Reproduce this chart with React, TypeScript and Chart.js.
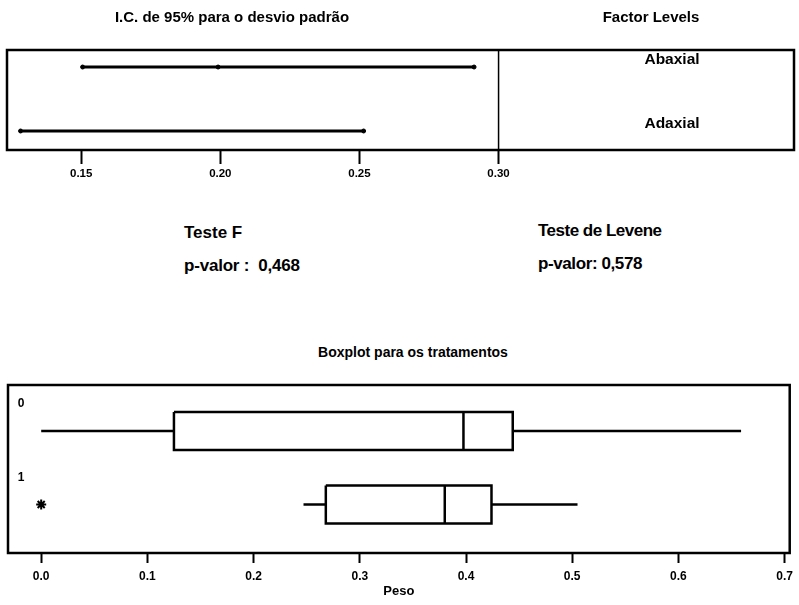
import { useEffect, useRef } from "react";
import { Chart, registerables } from "chart.js";

Chart.register(...registerables);

const FONT = "'Liberation Sans', Arial, Helvetica, sans-serif";

// 95% confidence intervals for the standard deviation, one row per factor level
const levels = ["Abaxial", "Adaxial"];
const levelPos = [1, 2];
const sigmaLower = [0.1505, 0.1282];
const sigmaEstimate: (number | null)[] = [0.1992, null];
const sigmaUpper = [0.2912, 0.2515];
const ciTicks = [0.15, 0.2, 0.25, 0.3];
const ciDivider = 0.3;

// Boxplot of "Peso" for the two treatments
const groups = ["0", "1"];
const groupPos = [0, 1];
const whiskerLow = [0.0, 0.247];
const q1 = [0.125, 0.268];
const median = [0.3976, 0.38];
const q3 = [0.444, 0.424];
const whiskerHigh = [0.659, 0.505];
const outliers: number[][] = [[], [0.0]];
const pesoTicks = [0, 0.1, 0.2, 0.3, 0.4, 0.5, 0.6, 0.7];

const frame = (lineWidth: number) => ({
  id: "frame",
  afterDatasetsDraw(chart: any) {
    const { ctx, chartArea: a } = chart;
    ctx.save();
    ctx.strokeStyle = "#000";
    ctx.lineWidth = lineWidth;
    ctx.strokeRect(a.left, a.top, a.right - a.left, a.bottom - a.top);
    ctx.restore();
  },
});

function CiChart() {
  const ref = useRef<HTMLCanvasElement>(null);
  useEffect(() => {
    const yMin = 0.734;
    const yMax = 2.297;
    const datasets: any[] = [];
    levels.forEach((_, i) => {
      datasets.push({
        data: [
          { x: sigmaLower[i], y: levelPos[i] },
          { x: sigmaUpper[i], y: levelPos[i] },
        ],
        showLine: true,
        borderColor: "#000",
        backgroundColor: "#000",
        borderWidth: 3,
        pointRadius: 2,
        pointBorderWidth: 1,
      });
      if (sigmaEstimate[i] !== null) {
        datasets.push({
          data: [{ x: sigmaEstimate[i], y: levelPos[i] }],
          borderColor: "#000",
          backgroundColor: "#000",
          pointRadius: 2,
          pointBorderWidth: 1,
        });
      }
    });
    datasets.push({
      data: [
        { x: ciDivider, y: yMin },
        { x: ciDivider, y: yMax },
      ],
      showLine: true,
      borderColor: "#000",
      borderWidth: 1.5,
      pointRadius: 0,
    });

    const levelLabels = {
      id: "levelLabels",
      afterDatasetsDraw(chart: any) {
        const { ctx, chartArea: a, scales } = chart;
        ctx.save();
        ctx.fillStyle = "#000";
        ctx.font = `bold 15.5px ${FONT}`;
        ctx.textAlign = "center";
        ctx.textBaseline = "middle";
        levels.forEach((name, i) => {
          ctx.fillText(name, a.right - 122, scales.y.getPixelForValue(levelPos[i]) - 7);
        });
        ctx.restore();
      },
    };

    const chart = new Chart(ref.current!, {
      type: "scatter",
      data: { datasets },
      options: {
        animation: false,
        responsive: false,
        events: [],
        layout: { padding: { top: 50, left: 7, right: 2, bottom: 0 } },
        plugins: { legend: { display: false }, tooltip: { enabled: false } },
        scales: {
          x: {
            type: "linear",
            min: 0.12333,
            max: 0.40618,
            afterBuildTicks: (s: any) => {
              s.ticks = ciTicks.map((v) => ({ value: v }));
            },
            afterFit: (s: any) => {
              s.height = 40;
            },
            border: { display: false },
            grid: {
              drawOnChartArea: false,
              drawTicks: true,
              tickLength: 14,
              tickWidth: 2,
              color: "#000",
            },
            ticks: {
              autoSkip: false,
              maxRotation: 0,
              padding: 3,
              color: "#000",
              font: { family: FONT, size: 11.5, weight: "bold" },
              callback: (v: any) => Number(v).toFixed(2),
            },
          },
          y: {
            type: "linear",
            reverse: true,
            min: yMin,
            max: yMax,
            display: false,
          },
        },
      },
      plugins: [frame(2.5), levelLabels],
    });
    return () => chart.destroy();
  }, []);
  return <canvas ref={ref} width={799} height={190} style={{ position: "absolute", left: 0, top: 0 }} />;
}

function BoxChart() {
  const ref = useRef<HTMLCanvasElement>(null);
  useEffect(() => {
    const half = 0.26;
    const line = (pts: { x: number; y: number }[]) => ({
      data: pts,
      showLine: true,
      borderColor: "#000",
      borderWidth: 2.5,
      pointRadius: 0,
    });
    const datasets: any[] = [];
    groups.forEach((_, i) => {
      const y = groupPos[i];
      datasets.push(
        line([
          { x: q1[i], y: y - half },
          { x: q3[i], y: y - half },
          { x: q3[i], y: y + half },
          { x: q1[i], y: y + half },
          { x: q1[i], y: y - half },
        ])
      );
      datasets.push(line([{ x: median[i], y: y - half }, { x: median[i], y: y + half }]));
      datasets.push(line([{ x: whiskerLow[i], y }, { x: q1[i], y }]));
      datasets.push(line([{ x: q3[i], y }, { x: whiskerHigh[i], y }]));
      if (outliers[i].length) {
        datasets.push({
          data: outliers[i].map((x) => ({ x, y })),
          pointStyle: "star",
          pointRadius: 5,
          borderWidth: 2,
          borderColor: "#000",
          backgroundColor: "#000",
        });
      }
    });

    const groupLabels = {
      id: "groupLabels",
      afterDatasetsDraw(chart: any) {
        const { ctx, chartArea: a, scales } = chart;
        ctx.save();
        ctx.fillStyle = "#000";
        ctx.font = `bold 12px ${FONT}`;
        ctx.textAlign = "center";
        ctx.textBaseline = "middle";
        groups.forEach((name, i) => {
          ctx.fillText(name, a.left + 13, scales.y.getPixelForValue(groupPos[i]) - 27);
        });
        ctx.restore();
      },
    };

    const chart = new Chart(ref.current!, {
      type: "scatter",
      data: { datasets },
      options: {
        animation: false,
        responsive: false,
        events: [],
        layout: { padding: { top: 55, left: 8, right: 2, bottom: 0 } },
        plugins: { legend: { display: false }, tooltip: { enabled: false } },
        scales: {
          x: {
            type: "linear",
            min: -0.03125,
            max: 0.7048,
            afterBuildTicks: (s: any) => {
              s.ticks = pesoTicks.map((v) => ({ value: v }));
            },
            afterFit: (s: any) => {
              s.height = 52;
            },
            border: { display: false },
            grid: {
              drawOnChartArea: false,
              drawTicks: true,
              tickLength: 10,
              tickWidth: 2,
              color: "#000",
            },
            ticks: {
              autoSkip: false,
              maxRotation: 0,
              padding: 6,
              color: "#000",
              font: { family: FONT, size: 12, weight: "bold" },
              callback: (v: any) => Number(v).toFixed(1),
            },
            title: {
              display: true,
              text: "Peso",
              color: "#000",
              font: { family: FONT, size: 13, weight: "bold" },
              padding: { top: 0, bottom: 6 },
            },
          },
          y: {
            type: "linear",
            reverse: true,
            min: -0.626,
            max: 1.66,
            display: false,
          },
        },
      },
      plugins: [frame(2.5), groupLabels],
    });
    return () => chart.destroy();
  }, []);
  return <canvas ref={ref} width={799} height={275} style={{ position: "absolute", left: 0, top: 330 }} />;
}

const txt = (size: number): React.CSSProperties => ({
  position: "absolute",
  fontFamily: FONT,
  fontWeight: "bold",
  fontSize: size,
  lineHeight: `${size}px`,
  whiteSpace: "nowrap",
  color: "#000",
});

export default function App() {
  return (
    <div style={{ position: "fixed", left: 0, top: 0, width: 799, height: 605, background: "#fff", overflow: "hidden" }}>
      <CiChart />
      <div style={{ ...txt(15), left: 232, top: 9, transform: "translateX(-50%)" }}>
        I.C. de 95% para o desvio padrão
      </div>
      <div style={{ ...txt(15), left: 651, top: 9, transform: "translateX(-50%)" }}>Factor Levels</div>
      <div style={{ ...txt(17), left: 184, top: 224 }}>Teste F</div>
      <div style={{ ...txt(17), left: 184, top: 257, letterSpacing: "-0.2px" }}>p-valor :&nbsp; 0,468</div>
      <div style={{ ...txt(17), left: 538, top: 222, letterSpacing: "-0.5px" }}>Teste de Levene</div>
      <div style={{ ...txt(17), left: 538, top: 255, letterSpacing: "-0.4px" }}>p-valor: 0,578</div>
      <div style={{ ...txt(14), left: 413, top: 345, transform: "translateX(-50%)" }}>
        Boxplot para os tratamentos
      </div>
      <BoxChart />
    </div>
  );
}
